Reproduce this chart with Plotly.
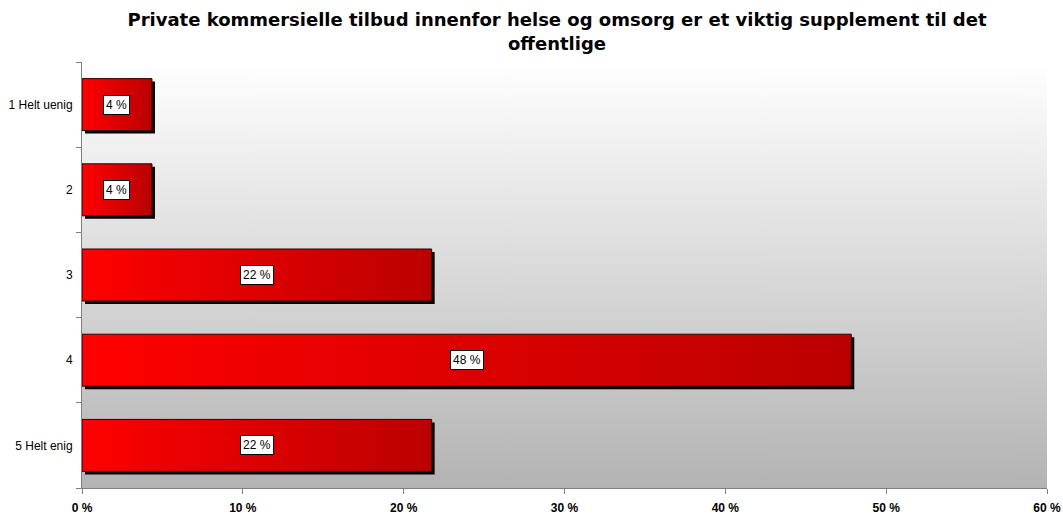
import plotly.graph_objects as go

categories = ["1 Helt uenig", "2", "3", "4", "5 Helt enig"]
values = [4.35, 4.35, 21.74, 47.83, 21.74]
value_labels = ["4 %", "4 %", "22 %", "48 %", "22 %"]
x_ticks = [0, 10, 20, 30, 40, 50, 60]
x_tick_labels = ["0 %", "10 %", "20 %", "30 %", "40 %", "50 %", "60 %"]
title = "Private kommersielle tilbud innenfor helse og omsorg er et viktig supplement til det<br>offentlige"

XMAX = 60
half = 0.305
sx = 3 * XMAX / 965.0   # shadow offset in x (~3px)
sy = 3 / 85.0           # shadow offset in y (~3px)

fig = go.Figure()

# plot-area background gradient
fig.add_trace(go.Scatter(
    x=[0, XMAX, XMAX, 0, 0], y=[-0.5, -0.5, 4.5, 4.5, -0.5],
    mode="lines", line=dict(width=0), fill="toself",
    fillgradient=dict(type="vertical", colorscale=[[0, "#b3b3b3"], [1, "#ffffff"]]),
    hoverinfo="skip", showlegend=False))

for i, v in enumerate(values):
    # shadow
    fig.add_trace(go.Scatter(
        x=[sx, v + sx, v + sx, sx, sx],
        y=[i - half + sy, i - half + sy, i + half + sy, i + half + sy, i - half + sy],
        mode="lines", line=dict(width=0), fill="toself", fillcolor="#000000",
        hoverinfo="skip", showlegend=False))
    # bar
    fig.add_trace(go.Scatter(
        x=[0, v, v, 0, 0],
        y=[i - half, i - half, i + half, i + half, i - half],
        mode="lines", line=dict(width=1, color="#300000"), fill="toself",
        fillgradient=dict(type="horizontal", colorscale=[[0, "#ff0000"], [1, "#bb0000"]]),
        hoverinfo="skip", showlegend=False))
    fig.add_annotation(
        x=v / 2, y=i, text=value_labels[i], showarrow=False,
        font=dict(family="Liberation Sans, Arial", size=12, color="#000000"),
        bgcolor="#ffffff", bordercolor="#000000", borderwidth=1, borderpad=2)

fig.update_layout(
    width=1063, height=514,
    margin=dict(l=82, r=16, t=62, b=26, autoexpand=False),
    paper_bgcolor="#ffffff", plot_bgcolor="rgba(0,0,0,0)",
    title=dict(text="<b>" + title + "</b>", x=0.524, xanchor="center", y=0.949, yanchor="middle",
               font=dict(family="DejaVu Sans, Verdana", size=18, color="#000000")),
    showlegend=False,
    font=dict(family="Liberation Sans, Arial", color="#000000"),
)
fig.update_xaxes(
    range=[0, XMAX], tickvals=x_ticks, ticktext=["<b>%s</b>" % t for t in x_tick_labels],
    ticks="outside", ticklen=5, tickcolor="#808080", showgrid=False, zeroline=False,
    showline=True, linecolor="#808080", linewidth=1, automargin=False,
    tickfont=dict(size=12, family="Liberation Sans, Arial"), ticklabelstandoff=4)
fig.update_yaxes(
    range=[4.5, -0.5], tickvals=list(range(len(categories))), ticktext=categories,
    ticks="", showgrid=False, zeroline=False, automargin=False,
    showline=True, linecolor="#808080", linewidth=1,
    minor=dict(tickvals=[-0.5, 0.5, 1.5, 2.5, 3.5, 4.5], ticks="outside", ticklen=5,
               tickcolor="#808080", showgrid=False),
    tickfont=dict(size=12, family="Liberation Sans, Arial"), ticklabelstandoff=6)

fig.write_html("out.html", config={"displayModeBar": False},
               post_script="document.body.style.margin='0';document.body.style.padding='0';")
